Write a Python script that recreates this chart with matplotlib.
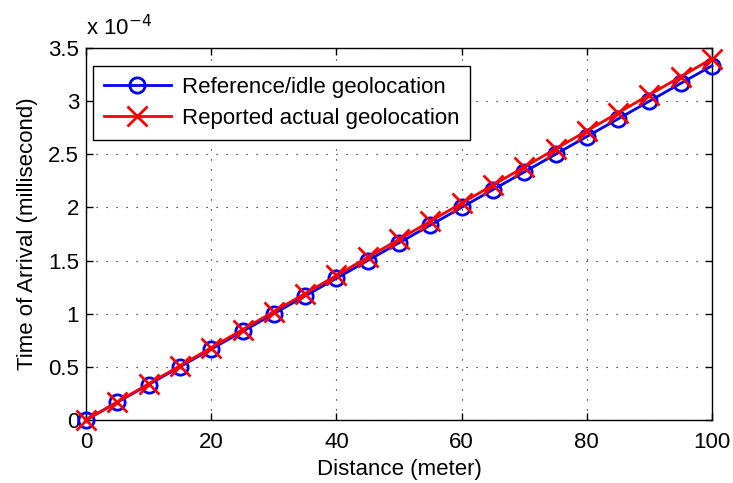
import matplotlib
matplotlib.use('Agg')
import matplotlib.pyplot as plt
import numpy as np

# Distance in meters and time of arrival (x 1e-4 ms)
distance = [0, 5, 10, 15, 20, 25, 30, 35, 40, 45, 50,
            55, 60, 65, 70, 75, 80, 85, 90, 95, 100]
toa_reference = [0.0, 0.167, 0.333, 0.5, 0.667, 0.833, 1.0, 1.167, 1.333, 1.5, 1.667,
                 1.833, 2.0, 2.167, 2.333, 2.5, 2.667, 2.833, 3.0, 3.167, 3.333]
toa_reported = [0.0, 0.17, 0.34, 0.51, 0.68, 0.85, 1.02, 1.19, 1.36, 1.53, 1.70,
                1.87, 2.04, 2.21, 2.38, 2.55, 2.72, 2.89, 3.06, 3.23, 3.40]

plt.rcParams['font.family'] = ['Liberation Sans', 'DejaVu Sans']
plt.rcParams['font.size'] = 16

fig = plt.figure(figsize=(7.33, 4.83), dpi=100)
ax = fig.add_axes([86/733, 63/483, 626/733, 372/483])

ax.plot(distance, np.array(toa_reference)*1e-4, color='#0000ff', linewidth=2,
        marker='o', markersize=11, markerfacecolor='none', markeredgewidth=2,
        label='Reference/idle geolocation', clip_on=False, zorder=3)
ax.plot(distance, np.array(toa_reported)*1e-4, color='#ff0000', linewidth=2,
        marker='x', markersize=14, markeredgewidth=2,
        label='Reported actual geolocation', clip_on=False, zorder=4)

ax.set_xlim(0, 100)
ax.set_ylim(0, 3.5e-4)
ax.set_xticks([0, 20, 40, 60, 80, 100])
ax.set_yticks(np.arange(0, 3.51e-4, 0.5e-4))
ax.set_yticklabels(['0', '0.5', '1', '1.5', '2', '2.5', '3', '3.5'])
ax.tick_params(direction='in', top=True, right=True, length=5, width=1)
ax.tick_params(axis='x', pad=9)
ax.tick_params(axis='y', pad=5)
ax.grid(True, color='black', linestyle=(0, (1, 8)), linewidth=0.8)
for s in ax.spines.values():
    s.set_linewidth(1)

ax.set_xlabel('Distance (meter)', labelpad=4)
ax.set_ylabel('Time of Arrival (millisecond)', labelpad=7)
ax.text(0, 1.02, r'x 10$^{-4}$', transform=ax.transAxes, ha='left', va='bottom')

leg = ax.legend(loc='upper left', bbox_to_anchor=(0.011, 0.952), fancybox=False,
                framealpha=1, edgecolor='black', handlelength=3, borderpad=0.5,
                labelspacing=0.45, borderaxespad=0, handletextpad=0.5)
leg.get_frame().set_linewidth(1)

fig.savefig('out.png', dpi=100)
